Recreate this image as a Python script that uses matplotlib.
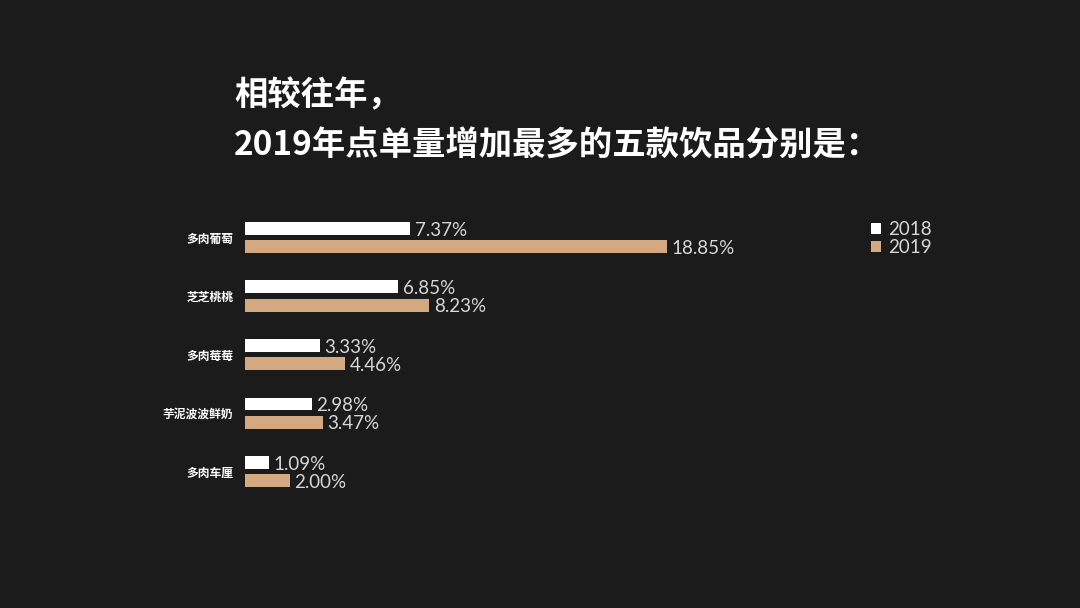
import matplotlib.pyplot as plt
from matplotlib.patches import Patch
import numpy as np

categories = ['多肉葡萄', '芝芝桃桃', '多肉莓莓', '芋泥波波鲜奶', '多肉车厘']
values_2018 = [7.37, 6.85, 3.33, 2.98, 1.09]
values_2019 = [18.85, 8.23, 4.46, 3.47, 2.00]
series_labels = ['2018', '2019']
title_lines = ['相较往年，', '2019年点单量增加最多的五款饮品分别是：']

bg = '#1c1b1b'
white = '#ffffff'
tan = '#d4a880'
label_grey = '#d6d6d6'
cjk = ['Noto Sans CJK SC', 'DejaVu Sans']
num_font = ['Lato', 'DejaVu Sans']

plt.rcParams['font.family'] = cjk

W, H = 1080, 608
fig = plt.figure(figsize=(W / 100, H / 100), dpi=100, facecolor=bg)

# axes placed in pixel terms: left 245, right 805, top 200, bottom 500
ax = fig.add_axes([245 / W, 1 - 500 / H, 560 / W, 300 / H])
ax.set_facecolor(bg)

y = np.arange(len(categories))
bar_h = 0.222
off = 0.154
ax.barh(y - off, values_2018, height=bar_h, color=white, label=series_labels[0])
ax.barh(y + off, values_2019, height=bar_h, color=tan, label=series_labels[1])

for yi, v in zip(y - off, values_2018):
    ax.text(v + 0.2, yi + 0.03, f'{v:.2f}%', va='center', ha='left', fontsize=13.5,
            color=label_grey, family=num_font)
for yi, v in zip(y + off, values_2019):
    ax.text(v + 0.2, yi + 0.03, f'{v:.2f}%', va='center', ha='left', fontsize=13.5,
            color=label_grey, family=num_font)

ax.set_xlim(0, 25)
ax.set_ylim(4.487, -0.641)
ax.set_yticks(y)
ax.set_yticklabels(categories, fontsize=8.5, fontweight='heavy', color=white)
ax.tick_params(axis='y', length=0, pad=8.5)
ax.set_xticks([])
for s in ax.spines.values():
    s.set_visible(False)

handles = [Patch(facecolor=white, edgecolor='none'), Patch(facecolor=tan, edgecolor='none')]
leg = fig.legend(handles, series_labels, loc='upper left', bbox_to_anchor=(871 / W, 1 - 221 / H),
                 frameon=False, handlelength=0.55, handleheight=0.55, handletextpad=0.35,
                 labelspacing=0.05, borderpad=0, borderaxespad=0,
                 prop={'family': num_font, 'size': 13.5})
for t in leg.get_texts():
    t.set_color(label_grey)

fig.text(234 / W, 1 - 96 / H, title_lines[0], fontsize=24, fontweight='black', color=white,
         va='center', ha='left')
fig.text(234 / W, 1 - 146 / H, title_lines[1], fontsize=24, fontweight='black', color=white,
         va='center', ha='left')

fig.savefig('out.png', dpi=100, facecolor=bg)
